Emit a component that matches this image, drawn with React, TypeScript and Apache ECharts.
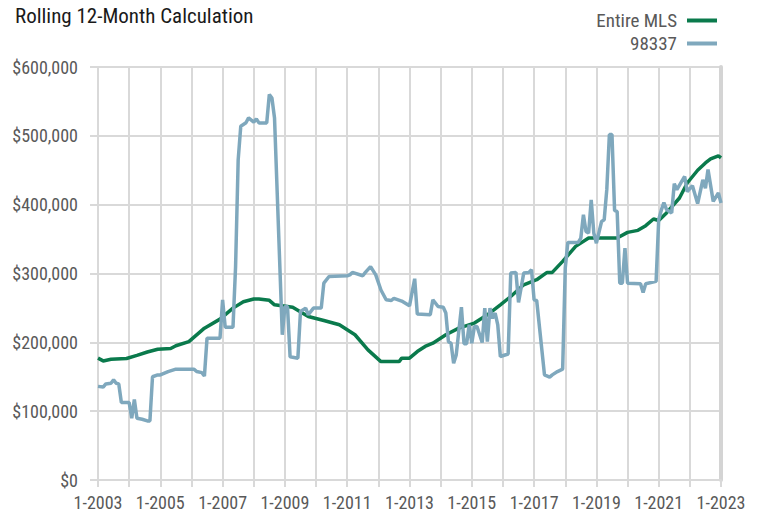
import React, { useEffect, useRef } from "react";
import * as echarts from "echarts";

const title = "Rolling 12-Month Calculation";
const seriesNames = ["Entire MLS", "98337"];
const yTicks = [0, 100000, 200000, 300000, 400000, 500000, 600000];

const mlsDates = [
  "2003-01", "2003-03", "2003-06", "2003-12", "2004-04", "2004-08", "2004-12", "2005-05", "2005-07", "2005-12",
  "2006-06", "2006-12", "2007-05", "2007-09", "2008-01", "2008-03", "2008-07", "2008-09", "2009-04", "2009-10",
  "2010-04", "2010-10", "2011-04", "2011-09", "2012-02", "2012-09", "2012-10", "2013-01", "2013-04", "2013-07",
  "2013-10", "2014-03", "2014-08", "2015-02", "2015-07", "2015-12", "2016-04", "2016-09", "2017-02", "2017-06",
  "2017-08", "2017-12", "2018-05", "2018-10", "2019-09", "2020-01", "2020-05", "2020-08", "2020-11", "2021-01",
  "2021-04", "2021-09", "2021-12", "2022-04", "2022-07", "2022-09", "2022-12", "2023-01",
];
const mlsValues = [
  177000, 173000, 175500, 176500, 181000, 186000, 190000, 191000, 195000, 201000,
  220600, 233700, 249700, 259000, 263000, 263000, 261000, 254500, 251000, 237500,
  231800, 225500, 211000, 189000, 172000, 172000, 177000, 177000, 186600, 194000,
  198800, 211000, 220600, 228000, 240000, 254500, 266600, 283600, 291000, 301600,
  301600, 317600, 339400, 351500, 351500, 359700, 362700, 369500, 379200, 377000,
  388000, 409700, 431500, 450000, 460600, 466400, 471000, 468000,
];

const zipDates = [
  "2003-01", "2003-03", "2003-04", "2003-06", "2003-07", "2003-08", "2003-09", "2003-10", "2004-01", "2004-02",
  "2004-03", "2004-04", "2004-06", "2004-08", "2004-09", "2004-10", "2004-12", "2005-01", "2005-04", "2005-07",
  "2006-02", "2006-03", "2006-05", "2006-06", "2006-07", "2006-12", "2007-01", "2007-02", "2007-05", "2007-06",
  "2007-07", "2007-08", "2007-10", "2007-11", "2008-01", "2008-02", "2008-03", "2008-06", "2008-07", "2008-08",
  "2008-09", "2008-12", "2009-01", "2009-02", "2009-03", "2009-06", "2009-07", "2009-09", "2009-10", "2009-12",
  "2010-03", "2010-04", "2010-06", "2011-01", "2011-02", "2011-03", "2011-07", "2011-08", "2011-10", "2011-12",
  "2012-02", "2012-04", "2012-06", "2012-07", "2012-10", "2013-01", "2013-03", "2013-04", "2013-09", "2013-10",
  "2013-12", "2014-02", "2014-03", "2014-04", "2014-05", "2014-06", "2014-07", "2014-09", "2014-10", "2014-11",
  "2014-12", "2015-01", "2015-02", "2015-03", "2015-05", "2015-06", "2015-07", "2015-08", "2015-09", "2015-10",
  "2015-11", "2015-12", "2016-03", "2016-04", "2016-06", "2016-07", "2016-09", "2016-11", "2016-12", "2017-01",
  "2017-02", "2017-05", "2017-07", "2017-08", "2017-10", "2017-12", "2018-01", "2018-02", "2018-06", "2018-07",
  "2018-08", "2018-09", "2018-10", "2018-11", "2018-12", "2019-01", "2019-03", "2019-04", "2019-05", "2019-06",
  "2019-07", "2019-08", "2019-09", "2019-10", "2019-11", "2019-12", "2020-01", "2020-06", "2020-07", "2020-08",
  "2020-12", "2021-01", "2021-02", "2021-03", "2021-04", "2021-06", "2021-07", "2021-08", "2021-11", "2021-12",
  "2022-02", "2022-04", "2022-06", "2022-07", "2022-08", "2022-10", "2022-12", "2023-01",
];
const zipValues = [
  136000, 135000, 139600, 140600, 145500, 140600, 139600, 112500, 112500, 89700,
  117000, 89700, 88200, 85800, 85800, 150000, 152700, 152700, 157500, 161000,
  161000, 157500, 156000, 151000, 206000, 206000, 261800, 222000, 222000, 310000,
  465000, 514000, 519000, 526000, 520000, 524600, 518800, 518800, 560000, 555000,
  526000, 211000, 252000, 252000, 179000, 177000, 244800, 249700, 240000, 249700,
  249700, 286000, 295700, 296700, 298000, 301600, 296700, 301600, 310000, 298000,
  276000, 261800, 260800, 264000, 260000, 253000, 292400, 241000, 240000, 261800,
  252000, 251000, 242500, 201000, 198800, 169700, 181800, 251000, 198000, 198000,
  225500, 198800, 223000, 223000, 199700, 249700, 201000, 249700, 235000, 242500,
  225500, 179400, 183000, 300600, 301600, 258000, 300600, 301600, 305500, 261800,
  260800, 152700, 149400, 152700, 157500, 161000, 308000, 345200, 345200, 351500,
  385500, 361000, 358800, 407000, 358800, 344000, 375700, 378000, 421800, 501800,
  501800, 391700, 390000, 286000, 286000, 337000, 286000, 285000, 272400, 285000,
  288500, 378000, 392000, 403000, 393000, 388000, 430500, 421800, 441000, 419000,
  427600, 401500, 436000, 424000, 451000, 404800, 417000, 402500,
];

const toYear = (d: string) => {
  const [y, m] = d.split("-").map(Number);
  return y + (m - 1) / 12;
};
const pairs = (dates: string[], vals: number[]) => dates.map((d, i) => [toYear(d), vals[i]]);

const FONT = "'Liberation Sans Narrow', 'Arial Narrow', 'Roboto Condensed', 'Liberation Sans', sans-serif";
const GRID = "#d9d9d9";
const GREEN = "#0a7a4c";
const BLUE = "#7fa8bd";

export default function App() {
  const ref = useRef<HTMLDivElement>(null);
  useEffect(() => {
    if (!ref.current) return;
    const chart = echarts.init(ref.current, undefined, { renderer: "svg" });
    chart.setOption({
      animation: false,
      backgroundColor: "#ffffff",
      title: {
        text: title,
        left: 10,
        top: 0,
        textStyle: { fontFamily: FONT, fontSize: 21, fontWeight: "normal", color: "#1a1a1a" },
      },
      legend: {
        orient: "vertical",
        right: 36,
        top: 6,
        align: "right",
        itemWidth: 30,
        itemHeight: 4,
        itemGap: 4,
        data: seriesNames.map((n) => ({ name: n, icon: "rect" })),
        textStyle: { fontFamily: FONT, fontSize: 19, color: "#595959", padding: [0, 5, 0, 0] },
      },
      grid: { left: 98, right: 37, top: 67, bottom: 35 },
      xAxis: {
        type: "value",
        min: 2003,
        max: 2023,
        interval: 1,
        axisLine: { show: true, lineStyle: { color: GRID, width: 2 } },
        axisTick: { show: true, length: 7, lineStyle: { color: GRID, width: 2 } },
        splitLine: { show: true, lineStyle: { color: GRID, width: 2 } },
        axisLabel: {
          margin: 13,
          fontFamily: FONT,
          fontSize: 18,
          color: "#595959",
          formatter: (v: number) => ((v - 2003) % 2 === 0 ? "1-" + v : ""),
        },
      },
      yAxis: [
        {
          type: "value",
          min: yTicks[0],
          max: yTicks[yTicks.length - 1],
          interval: 100000,
          axisLine: { show: false },
          axisTick: { show: true, length: 8, lineStyle: { color: GRID, width: 2 } },
          splitLine: { show: true, lineStyle: { color: GRID, width: 2 } },
          axisLabel: {
            margin: 20,
            fontFamily: FONT,
            fontSize: 18,
            color: "#595959",
            formatter: (v: number) => "$" + v.toLocaleString("en-US"),
          },
        },
        {
          type: "value",
          position: "right",
          min: yTicks[0],
          max: yTicks[yTicks.length - 1],
          interval: 100000,
          axisLine: { show: true, lineStyle: { color: "#d4d4d4", width: 4 } },
          axisTick: { show: false },
          splitLine: { show: false },
          axisLabel: { show: false },
        },
      ],
      series: [
        {
          name: seriesNames[0],
          type: "line",
          data: pairs(mlsDates, mlsValues),
          showSymbol: false,
          color: GREEN,
          lineStyle: { color: GREEN, width: 3.5 },
          z: 3,
        },
        {
          name: seriesNames[1],
          type: "line",
          data: pairs(zipDates, zipValues),
          showSymbol: false,
          color: BLUE,
          lineStyle: { color: BLUE, width: 3.5 },
          z: 4,
        },
      ],
    });
    return () => chart.dispose();
  }, []);
  return <div ref={ref} style={{ width: 758, height: 515, position: "fixed", left: 0, top: 0 }} />;
}
